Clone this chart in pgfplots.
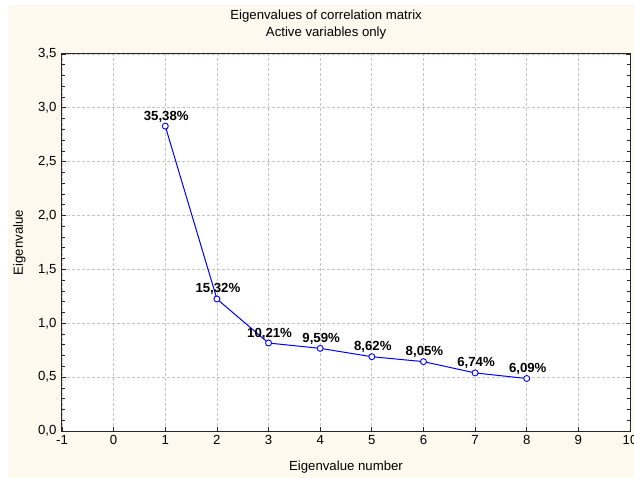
\documentclass[border=0pt]{standalone}
\usepackage{pgfplots}
\pgfplotsset{compat=1.18}
\usepackage{fontspec}
\setmainfont{Liberation Sans}
\definecolor{cream}{RGB}{253,249,238}
\definecolor{gridgray}{RGB}{196,196,196}
\begin{document}
\begin{tikzpicture}[font=\fontsize{13.2bp}{16.5bp}\selectfont]
\fill[white] (-62bp,-47bp) rectangle (572bp,431bp);
\fill[cream] (-54bp,-47bp) rectangle (572bp,426bp);
\begin{axis}[
  at={(0,0)}, anchor=south west,
  scale only axis, width=568bp, height=377bp,
  xmin=-1, xmax=10, ymin=0, ymax=3.5,
  xtick={-1,0,...,10}, ytick={0,0.5,...,3.5},
  minor y tick num=4,
  axis background/.style={fill=white},
  grid=major,
  major grid style={draw=gridgray, dash pattern=on 3bp off 2bp, line width=0.8bp},
  tick align=inside,
  xtick pos=lower, ytick pos=both,
  major tick length=4bp, minor tick length=3bp,
  axis line style={line width=1bp, black!85},
  every tick/.style={black!85, line width=0.8bp},
  /pgf/number format/assume math mode=true,
  yticklabel style={/pgf/number format/use comma, /pgf/number format/fixed, /pgf/number format/fixed zerofill, /pgf/number format/precision=1, xshift=-2bp},
  xticklabel style={yshift=-1bp},
  title={Eigenvalues of correlation matrix\\Active variables only},
  title style={align=center, at={(axis description cs:0.465,1.0239)}, anchor=south, inner sep=0pt},
  xlabel={Eigenvalue number},
  xlabel style={at={(axis description cs:0.5,-0.1061)}, anchor=base},
  ylabel={Eigenvalue},
  ylabel style={at={(axis description cs:-0.0687,0.5)}, anchor=base},
  nodes near coords,
  point meta=explicit symbolic,
  every node near coord/.append style={anchor=base, inner sep=0pt, yshift=6bp, xshift=1bp, font=\fontsize{13.2bp}{15bp}\selectfont\bfseries, text=black},
]
\addplot[blue, line width=1bp, mark=*, mark size=3bp, mark options={fill=white, draw=blue, line width=0.9bp}]
coordinates {
(1,2.8304) [35,38\%]
(2,1.2256) [15,32\%]
(3,0.8168) [10,21\%]
(4,0.7672) [9,59\%]
(5,0.6896) [8,62\%]
(6,0.6440) [8,05\%]
(7,0.5392) [6,74\%]
(8,0.4872) [6,09\%]
};
\end{axis}
\pgfresetboundingbox
\path[use as bounding box] (-62bp,-47bp) rectangle (572bp,431bp);
\end{tikzpicture}
\end{document}
